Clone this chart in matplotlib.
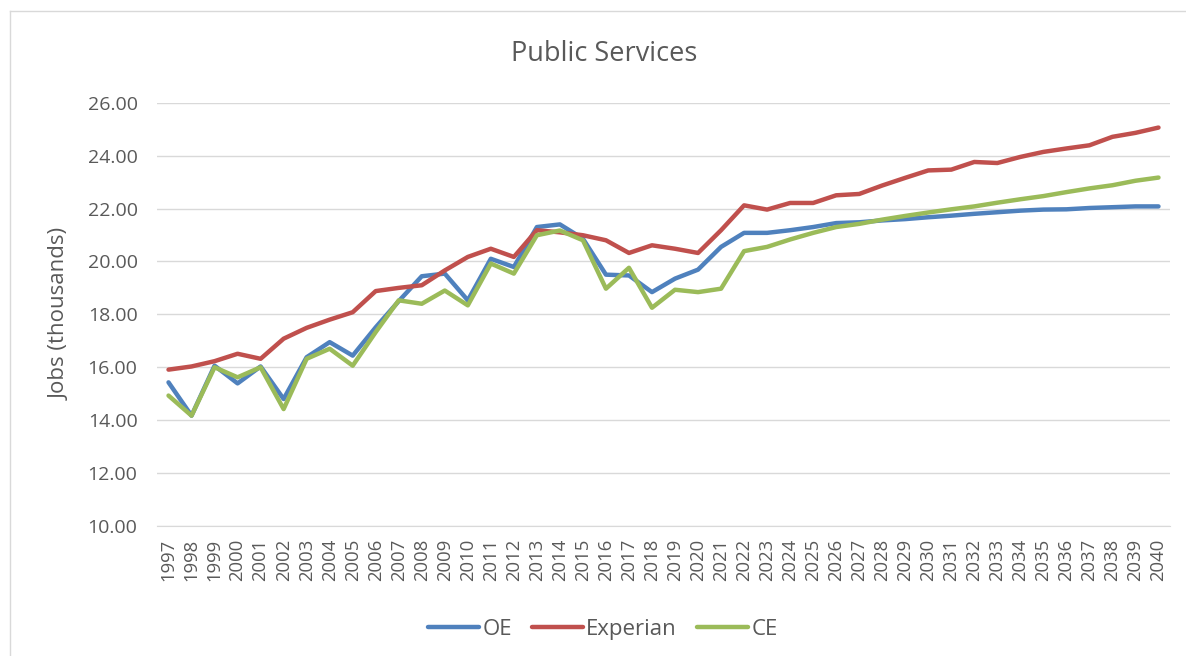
import matplotlib
matplotlib.use("Agg")
import matplotlib.pyplot as plt
from matplotlib.lines import Line2D

plt.rcParams["font.family"] = ["Open Sans", "DejaVu Sans"]

years = list(range(1997, 2041))

oe = [15.43, 14.17, 16.06, 15.39, 16.03, 14.80, 16.38, 16.95, 16.44, 17.51,
      18.50, 19.44, 19.54, 18.53, 20.10, 19.79, 21.30, 21.40, 20.86, 19.50,
      19.47, 18.84, 19.35, 19.69, 20.55, 21.08, 21.08, 21.18, 21.30, 21.45,
      21.48, 21.55, 21.60, 21.67, 21.73, 21.80, 21.86, 21.92, 21.96, 21.97,
      22.02, 22.05, 22.08, 22.08]

experian = [15.91, 16.03, 16.23, 16.51, 16.32, 17.08, 17.49, 17.80, 18.08, 18.88,
            19.00, 19.10, 19.66, 20.17, 20.48, 20.17, 21.18, 21.10, 20.99, 20.80,
            20.32, 20.61, 20.48, 20.32, 21.18, 22.12, 21.96, 22.21, 22.21, 22.50,
            22.55, 22.87, 23.16, 23.44, 23.47, 23.76, 23.72, 23.95, 24.14, 24.27,
            24.39, 24.71, 24.86, 25.06]

ce = [14.93, 14.17, 16.00, 15.62, 16.00, 14.42, 16.32, 16.70, 16.06, 17.33,
      18.53, 18.40, 18.90, 18.34, 19.92, 19.54, 20.99, 21.17, 20.80, 18.97,
      19.76, 18.25, 18.93, 18.84, 18.97, 20.39, 20.55, 20.83, 21.08, 21.30,
      21.42, 21.58, 21.72, 21.85, 21.97, 22.08, 22.22, 22.35, 22.47, 22.62,
      22.76, 22.88, 23.05, 23.17]

series = [("OE", oe, "#4F81BD"), ("Experian", experian, "#C0504D"), ("CE", ce, "#9BBB59")]

text_col = "#595959"
grid_col = "#D9D9D9"

fig = plt.figure(figsize=(11.86, 6.56), dpi=100)
ax = fig.add_axes([157 / 1186, 1 - 526 / 656, (1170 - 157) / 1186, (526 - 102.7) / 656])

x = list(range(len(years)))
for name, vals, col in series:
    ax.plot(x, vals, color=col, lw=3.2, label=name, solid_capstyle="round")

ax.set_xlim(-0.5, len(years) - 0.5)
ax.set_ylim(10, 26)
ax.set_yticks(range(10, 27, 2))
ax.set_yticklabels([f"{v:.2f}" for v in range(10, 27, 2)])
ax.set_xticks(x)
ax.set_xticklabels([str(y) for y in years], rotation=90)
ax.tick_params(axis="both", length=0, colors=text_col)
ax.tick_params(axis="y", pad=14, labelsize=14)
ax.tick_params(axis="x", pad=9, labelsize=13.3)

ax.grid(axis="y", color=grid_col, lw=1)
ax.set_axisbelow(True)
for side in ["top", "right", "left"]:
    ax.spines[side].set_visible(False)
ax.spines["bottom"].set_color(grid_col)

ax.set_ylabel("Jobs (thousands)", color=text_col, fontsize=16, labelpad=12)
fig.text(604 / 1186, 1 - 54 / 656, "Public Services", ha="center", va="center",
         color=text_col, fontsize=19.5)

ax.legend(loc="center", bbox_to_anchor=(0.44, -0.245), ncol=3, frameon=False,
          fontsize=16, handlelength=2.3, handletextpad=0.15, columnspacing=0.9,
          labelcolor=text_col)

# chart frame (left and top edges)
fig.add_artist(Line2D([10 / 1186, 10 / 1186], [0, 1 - 11 / 656], color="#D9D9D9", lw=1))
fig.add_artist(Line2D([10 / 1186, 1], [1 - 11 / 656, 1 - 11 / 656], color="#D9D9D9", lw=1))

fig.savefig("out.png", dpi=100)
